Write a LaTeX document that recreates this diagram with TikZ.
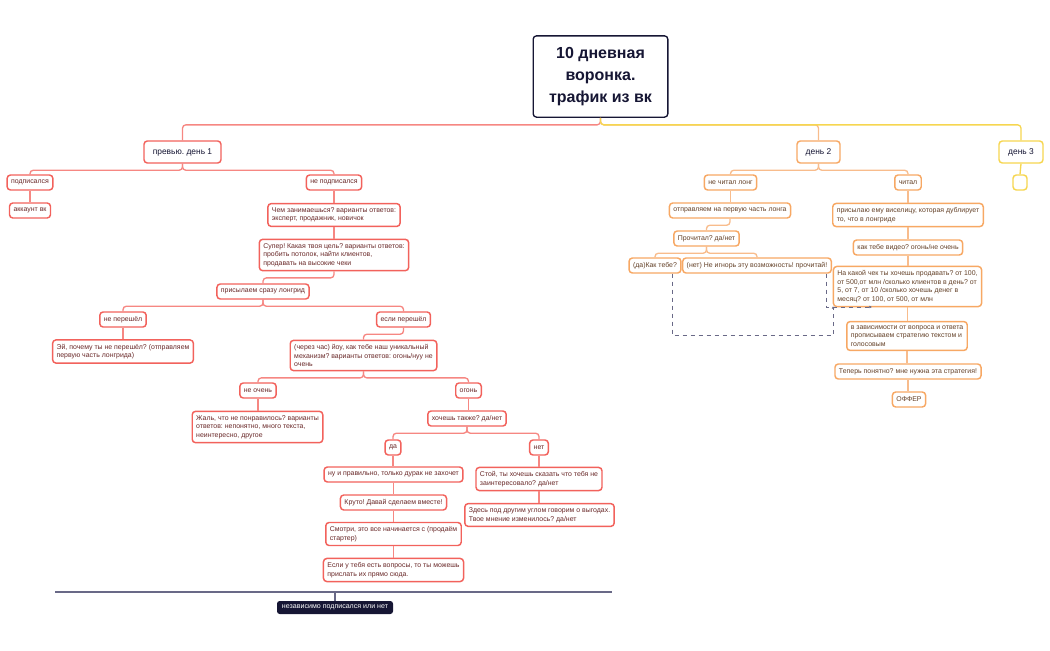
\documentclass[tikz,border=0pt]{standalone}
\usepackage{fontspec}
\setmainfont{Liberation Sans}
\frenchspacing
\usetikzlibrary{
  arrows.meta,
  calc,
  positioning,
}
\definecolor{boxred}{RGB}{242,98,92}
\definecolor{linkred}{RGB}{246,135,130}
\definecolor{textred}{RGB}{105,40,40}
\definecolor{boxorange}{RGB}{247,168,100}
\definecolor{linkorange}{RGB}{248,188,140}
\definecolor{textorange}{RGB}{100,65,40}
\definecolor{boxyellow}{RGB}{246,214,80}
\definecolor{navy}{RGB}{22,22,52}
\definecolor{dashgray}{RGB}{105,105,135}
\tikzset{
  card/.style={draw, fill=white, rounded corners=2.5pt, line width=1.1pt, align=left,
    font=\fontsize{5.2}{6.4}\selectfont, inner xsep=3pt, inner ysep=3pt,
    minimum height=11.25pt},
  redcard/.style={card, draw=boxred, text=textred},
  orcard/.style={card, draw=boxorange, text=textorange},
  daycard/.style={card, font=\fontsize{6.3}{7.5}\selectfont, minimum height=16.5pt,
    text=navy, align=center},
  redlink/.style={linkred, line width=1pt, rounded corners=2.5pt},
  orlink/.style={linkorange, line width=1pt, rounded corners=2.5pt},
  yellink/.style={boxyellow, line width=1pt, rounded corners=2.5pt},
  dashlink/.style={dashgray, dashed, line width=0.7pt, -{Latex[length=2pt,width=2pt]}},
}

\begin{document}
\begin{tikzpicture}[x=0.75pt, y=-0.75pt]
  \useasboundingbox (0,0) rectangle (1050,650);

  % title
  \node [draw=navy, fill=white, rounded corners=2.5pt, line width=1pt, text=navy,
         align=center, font=\bfseries\fontsize{12}{16.5}\selectfont,
         minimum width=101pt, minimum height=61pt] (title) at (600.5,76.5)
        {10 дневная\\ воронка.\\ трафик из вк};

  % days
  \node [daycard, draw=boxred, minimum width=57.75pt] (prev) at (182.5,152) {превью. день 1};
  \node [daycard, draw=boxorange, minimum width=32.25pt] (day2) at (818.5,152) {день 2};
  \node [daycard, draw=boxyellow, minimum width=33pt] (day3) at (1021,152) {день 3};

  % day 1
  \node [redcard] (subs) at (30,182.5) {подписался};
  \node [redcard] (acc) at (30,210.5) {аккаунт вк};
  \node [redcard] (nsubs) at (334,182.5) {не подписался};
  \node [redcard] (job) at (334,215)
        {Чем занимаешься? варианты ответов:\\ эксперт, продажник, новичок};
  \node [redcard] (goal) at (334,255)
        {Супер! Какая твоя цель? варианты ответов:\\ пробить потолок, найти клиентов,\\ продавать на высокие чеки};
  \node [redcard] (long) at (263,291.5) {присылаем сразу лонгрид};
  \node [redcard] (npass) at (123,319.5) {не перешёл};
  \node [redcard] (pass) at (403.5,319.5) {если перешёл};
  \node [redcard] (hey) at (123,351.5)
        {Эй, почему ты не перешёл? (отправляем\\ первую часть лонгрида)};
  \node [redcard] (mech) at (363.5,355.5)
        {(через час) йоу, как тебе наш уникальный\\ механизм? варианты ответов: огонь/нуу не\\ очень};
  \node [redcard] (bad) at (258,390.5) {не очень};
  \node [redcard] (fire) at (468.5,390.5) {огонь};
  \node [redcard] (sorry) at (257.5,427)
        {Жаль, что не понравилось? варианты\\ ответов: непонятно, много текста,\\ неинтересно, другое};
  \node [redcard] (want) at (467,418.5) {хочешь также? да/нет};
  \node [redcard] (yes) at (393,447.5) {да};
  \node [redcard] (no) at (539,447.5) {нет};
  \node [redcard] (right) at (393.5,474.5) {ну и правильно, только дурак не захочет};
  \node [redcard] (cool) at (393.5,502.5) {Круто! Давай сделаем вместе!};
  \node [redcard] (look) at (393.5,534)
        {Смотри, это все начинается с (продаём\\ стартер)};
  \node [redcard] (ask) at (393.5,570)
        {Если у тебя есть вопросы, то ты можешь\\ прислать их прямо сюда.};
  \node [redcard] (stop) at (539,479)
        {Стой, ты хочешь сказать что тебя не\\ заинтересовало? да/нет};
  \node [redcard] (other) at (539.5,515)
        {Здесь под другим углом говорим о выгодах.\\ Твое мнение изменилось? да/нет};

  % day 2
  \node [orcard] (nread) at (730.5,182.5) {не читал лонг};
  \node [orcard] (read) at (908,182.5) {читал};
  \node [orcard] (first) at (730,210.5) {отправляем на первую часть лонга};
  \node [orcard] (check) at (706.5,238.5) {Прочитал? да/нет};
  \node [orcard] (yesq) at (655,265.5) {(да)Как тебе?};
  \node [orcard] (noq) at (757,265.5) {(нет) Не игнорь эту возможность! прочитай!};
  \node [orcard] (gallows) at (908,215)
        {присылаю ему виселицу, которая дублирует\\ то, что в лонгриде};
  \node [orcard] (video) at (908,247.5) {как тебе видео? огонь/не очень};
  \node [orcard] (price) at (907.5,286.5)
        {На какой чек ты хочешь продавать? от 100,\\ от 500,от млн /сколько клиентов в день? от\\ 5, от 7, от 10 /сколько хочешь денег в\\ месяц? от 100, от 500, от млн};
  \node [orcard] (strat) at (907,336)
        {в зависимости от вопроса и ответа\\ прописываем стратегию текстом и\\ голосовым};
  \node [orcard] (clear) at (908,371.5) {Теперь понятно? мне нужна эта стратегия!};
  \node [orcard] (offer) at (909,399.5) {ОФФЕР};

  % day 3
  \node [card, draw=boxyellow, minimum width=10.5pt] (empty) at (1020,182.5) {};

  % footer
  \coordinate (rule-l) at (55,592);
  \coordinate (rule-r) at (612,592);
  \node [fill=navy, text=white, rounded corners=2pt, font=\fontsize{5.3}{6.4}\selectfont,
         minimum width=87pt, minimum height=9.75pt, inner sep=2pt] (indep) at (335,607.5)
        {независимо подписался или нет};

  % links
  \draw [redlink] (title.south) -- ++(0,7) -| (prev.north);
  \draw [orlink] (title.south) -- ++(0,7) -| (day2.north);
  \draw [yellink] (title.south) -- ++(0,7) -| (day3.north);
  \draw [yellink] (day3.south) -- (empty.north);

  \foreach \a/\b in {prev/subs, prev/nsubs, goal/long, long/npass, long/pass,
                     pass/mech, mech/bad, mech/fire, want/yes, want/no}
    \draw [redlink] (\a.south) -- ++(0,6.5) -| (\b.north);
  \foreach \a/\b in {subs/acc, nsubs/job, job/goal, npass/hey, bad/sorry, fire/want,
                     yes/right, right/cool, cool/look, look/ask, no/stop, stop/other}
    \draw [redlink] (\a.south) -- (\a.south |- \b.north);

  \foreach \a/\b in {day2/nread, day2/read, first/check, check/yesq, check/noq}
    \draw [orlink] (\a.south) -- ++(0,6.5) -| (\b.north);
  \foreach \a/\b in {nread/first, read/gallows, gallows/video, video/price,
                     price/strat, strat/clear, clear/offer}
    \draw [orlink] (\a.south) -- (\a.south |- \b.north);

  \coordinate (dash-a) at (833,306);
  \coordinate (dash-b) at (872,307);
  \draw [dashlink] ($(yesq.south east)+(-9,0)$) -- ++(0,62) -| (dash-a);
  \draw [dashlink] ($(noq.south east)+(-6,0)$) |- (dash-b);

  \draw [dashgray, line width=1.5pt] (rule-l) -- (rule-r);
  \draw [dashgray, line width=1pt] (indep.north |- rule-l) -- (indep.north);
\end{tikzpicture}
\end{document}
